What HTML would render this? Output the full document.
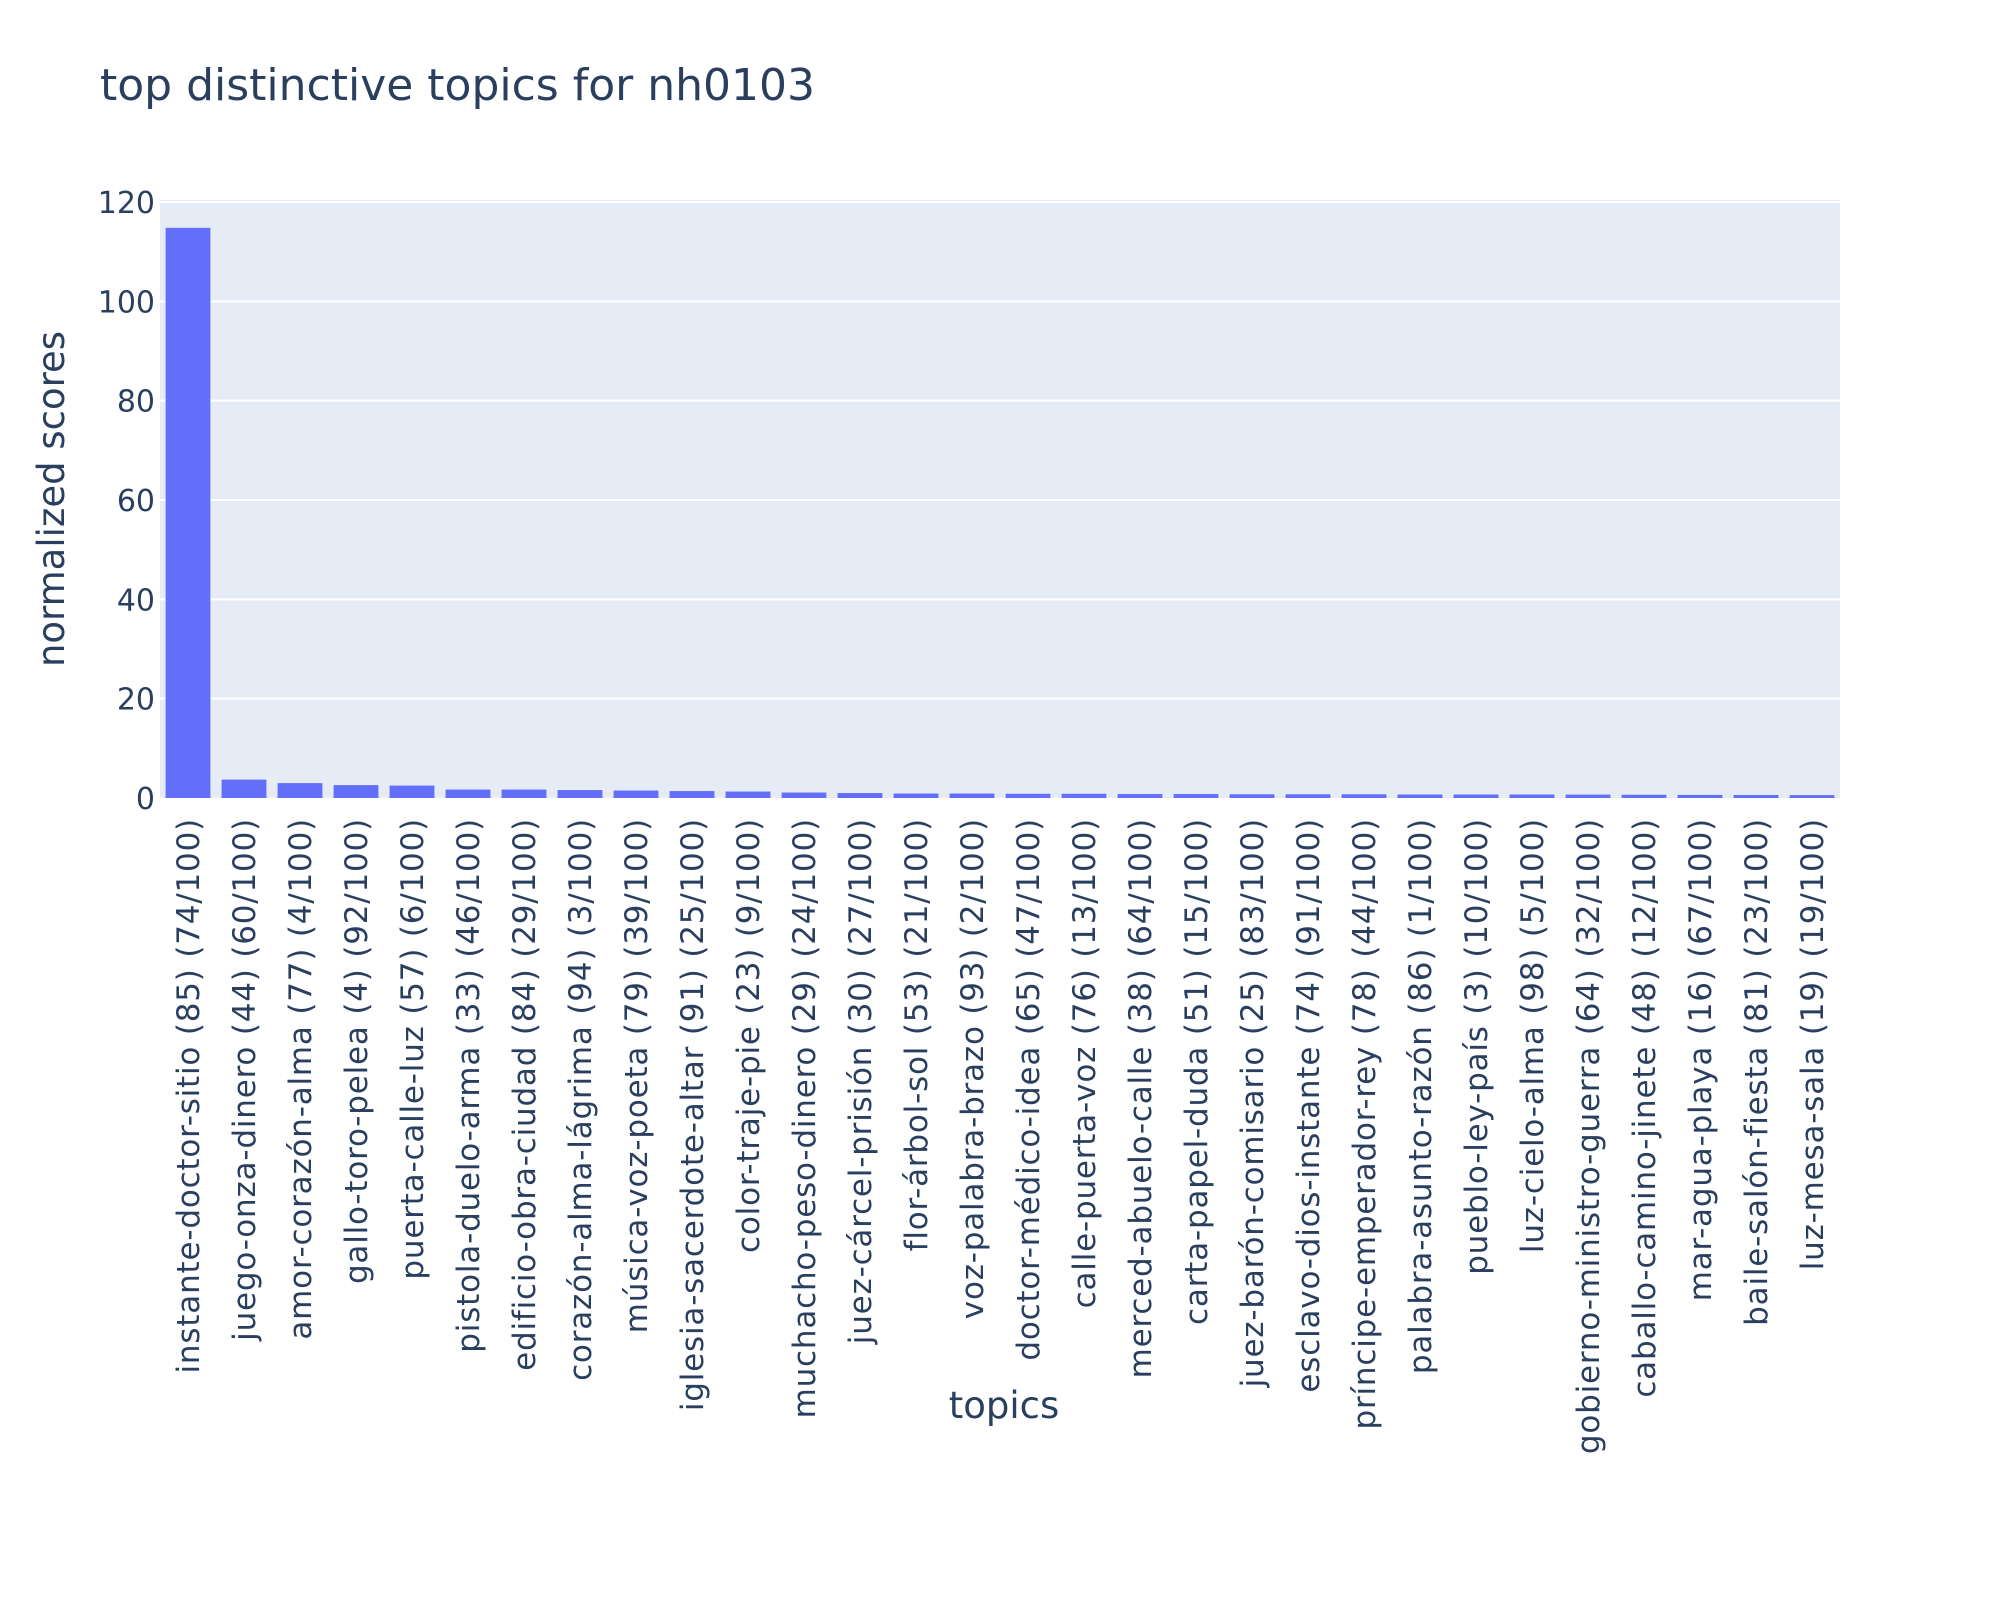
<!DOCTYPE html>
<html><head><meta charset="utf-8"><style>
html,body{margin:0;padding:0;background:#fff;}
svg text{font-family:"DejaVu Sans","Liberation Sans",sans-serif;fill:#2a3f5f;}
</style></head><body>
<svg id="chart" width="2000" height="1600" xmlns="http://www.w3.org/2000/svg">
<rect x="0" y="0" width="2000" height="1600" fill="#fff"/>
<rect x="160" y="200" width="1680" height="598" fill="#E5ECF6"/>
<g id="grid"></g><g id="bars"></g><g id="yticks"></g><g id="xticks"></g>
<text x="100" y="100" font-size="44">top distinctive topics for nh0103</text>
<text x="1004" y="1418" font-size="37" text-anchor="middle">topics</text>
<text transform="translate(64,499) rotate(-90)" font-size="37" text-anchor="middle">normalized scores</text>
</svg>
<script>
const categories = ["instante-doctor-sitio (85) (74/100)","juego-onza-dinero (44) (60/100)","amor-corazón-alma (77) (4/100)","gallo-toro-pelea (4) (92/100)","puerta-calle-luz (57) (6/100)","pistola-duelo-arma (33) (46/100)","edificio-obra-ciudad (84) (29/100)","corazón-alma-lágrima (94) (3/100)","música-voz-poeta (79) (39/100)","iglesia-sacerdote-altar (91) (25/100)","color-traje-pie (23) (9/100)","muchacho-peso-dinero (29) (24/100)","juez-cárcel-prisión (30) (27/100)","flor-árbol-sol (53) (21/100)","voz-palabra-brazo (93) (2/100)","doctor-médico-idea (65) (47/100)","calle-puerta-voz (76) (13/100)","merced-abuelo-calle (38) (64/100)","carta-papel-duda (51) (15/100)","juez-barón-comisario (25) (83/100)","esclavo-dios-instante (74) (91/100)","príncipe-emperador-rey (78) (44/100)","palabra-asunto-razón (86) (1/100)","pueblo-ley-país (3) (10/100)","luz-cielo-alma (98) (5/100)","gobierno-ministro-guerra (64) (32/100)","caballo-camino-jinete (48) (12/100)","mar-agua-playa (16) (67/100)","baile-salón-fiesta (81) (23/100)","luz-mesa-sala (19) (19/100)"];
const scores = [114.8,3.7,3.0,2.6,2.5,1.7,1.7,1.6,1.5,1.4,1.3,1.1,1.0,0.9,0.9,0.85,0.85,0.8,0.8,0.75,0.75,0.75,0.7,0.7,0.7,0.68,0.65,0.62,0.6,0.58];
const yTicks = [0,20,40,60,80,100,120];
const NS="http://www.w3.org/2000/svg";
const X0=160,W=1680,Y0=798,YTOP=200,YMAX=120.4;
const y=v=>Y0-(v/YMAX)*(Y0-YTOP);
const step=W/categories.length;
const xc=i=>X0+step*(i+0.5);
function mk(t,a,p){const e=document.createElementNS(NS,t);for(const k in a)e.setAttribute(k,a[k]);p.appendChild(e);return e;}
const grid=document.getElementById('grid'),bars=document.getElementById('bars'),yt=document.getElementById('yticks'),xt=document.getElementById('xticks');
yTicks.forEach(v=>{
  if(v>0){const l=mk('line',{x1:X0,x2:X0+W,y1:y(v),y2:y(v),stroke:'#fff','stroke-width':2},grid);
  
  }
  const t=mk('text',{x:155,y:y(v)+11,'font-size':30,'text-anchor':'end'},yt);
  t.textContent=v;
  
  
});
categories.forEach((c,i)=>{
  const bw=step*0.8;
  const r=mk('rect',{x:xc(i)-bw/2,y:y(scores[i]),width:bw,height:Y0-y(scores[i]),fill:'#636EFA'},bars);
  
  
  const t=mk('text',{transform:`translate(${xc(i)+11},818) rotate(-90)`,'font-size':31,'letter-spacing':'0.8','text-anchor':'end'},xt);
  t.textContent=c;
  
  
});
</script>
</body></html>
